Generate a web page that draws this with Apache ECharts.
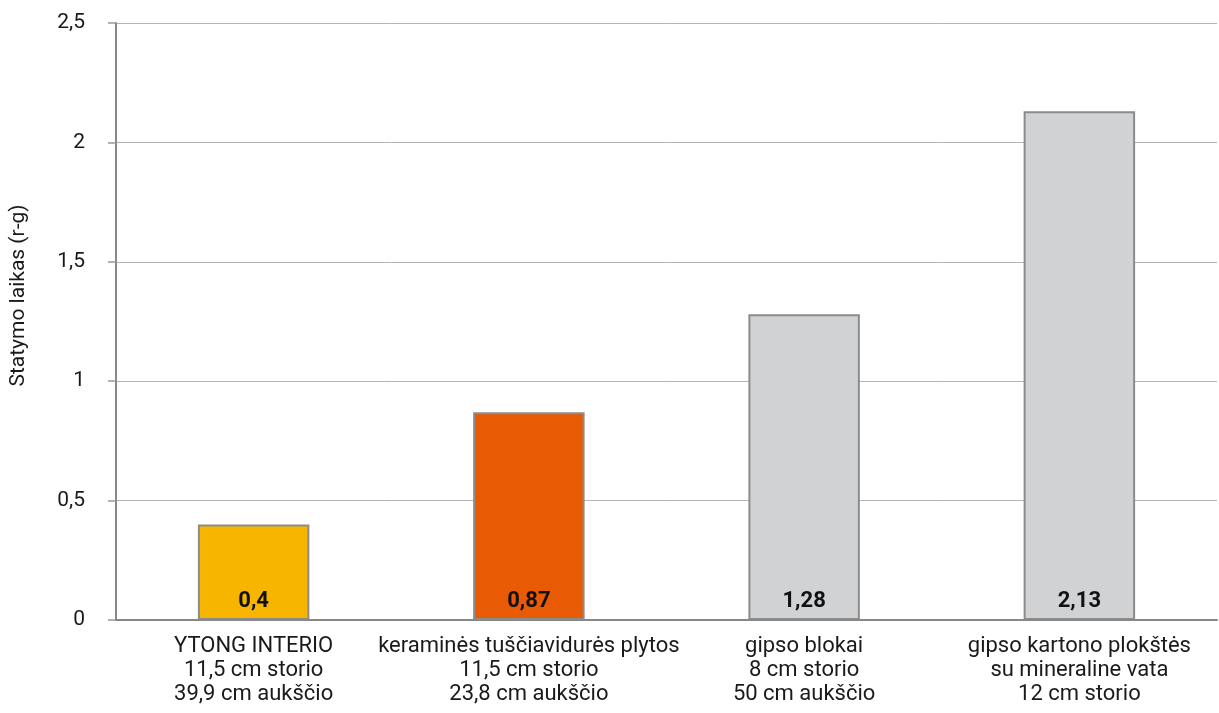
<!DOCTYPE html>
<html><head><meta charset="utf-8">
<script src="https://cdn.jsdelivr.net/npm/echarts@6/dist/echarts.min.js"></script>
<style>html,body{margin:0;padding:0;background:#fff}#c{width:1219px;height:713px}</style>
</head><body><div id="c"></div>
<script>
var categories = [
  "YTONG INTERIO\n11,5 cm storio\n39,9 cm aukščio",
  "keraminės tuščiavidurės plytos\n11,5 cm storio\n23,8 cm aukščio",
  "gipso blokai\n8 cm storio\n50 cm aukščio",
  "gipso kartono plokštės\nsu mineraline vata\n12 cm storio"
];
var values = [0.4, 0.87, 1.28, 2.13];
var barColors = ["#F8B500", "#E95A04", "#D1D2D4", "#D1D2D4"];
var yAxisName = "Statymo laikas (r-g)";
var FONT = "Roboto, 'DejaVu Sans', sans-serif";
function fmt(v){ return String(v).replace('.', ','); }

var chart = echarts.init(document.getElementById('c'));
chart.setOption({
  animation: false,
  grid: { left: 115, right: 2, top: 23, bottom: 93, containLabel: false },
  xAxis: {
    type: 'category',
    data: categories,
    axisLine: { show: true, lineStyle: { color: '#888', width: 2 } },
    axisTick: { show: false },
    axisLabel: { color: '#1a1a1a', fontFamily: FONT, fontSize: 22, lineHeight: 24, margin: 14, interval: 0 },
    z: 5
  },
  yAxis: {
    type: 'value',
    min: 0, max: 2.5, interval: 0.5,
    name: yAxisName,
    nameLocation: 'middle',
    nameGap: 87,
    nameTextStyle: { color: '#1a1a1a', fontFamily: FONT, fontSize: 21, padding: [0, 0, 0, 52] },
    axisLine: { show: true, lineStyle: { color: '#888', width: 2 } },
    axisTick: { show: true, length: 8, lineStyle: { color: '#999', width: 1.5 } },
    axisLabel: { color: '#1a1a1a', fontFamily: FONT, fontSize: 21, margin: 31, formatter: fmt },
    splitLine: { show: true, lineStyle: { color: '#b4b4b4', width: 1 } }
  },
  series: [{
    type: 'bar',
    barWidth: '40.5%',
    data: values.map(function(v, i){
      return { value: v, itemStyle: { color: barColors[i], borderColor: '#8c8c8c', borderWidth: 2 } };
    }),
    label: {
      show: true,
      position: 'insideBottom',
      distance: 8,
      color: '#111',
      fontFamily: FONT,
      fontWeight: 'bold',
      fontSize: 22,
      formatter: function(p){ return fmt(p.value); }
    }
  }]
});
</script>
</body></html>
